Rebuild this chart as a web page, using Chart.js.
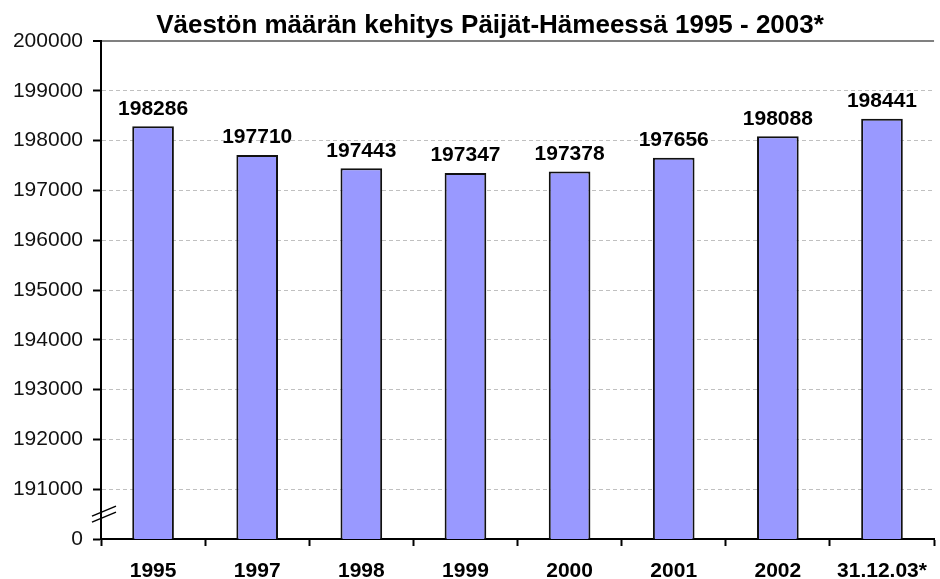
<!DOCTYPE html>
<html>
<head>
<meta charset="utf-8">
<script src="https://cdn.jsdelivr.net/npm/chart.js@4/dist/chart.umd.min.js"></script>
<style>
  html, body { margin: 0; padding: 0; background: #fff; }
  #wrap { width: 940px; height: 579px; }
</style>
</head>
<body>
<div id="wrap"><canvas id="graf"></canvas></div>
<script>
// vuodet ja väkiluvut
let vuodet = ['1995', '1997', '1998', '1999', '2000', '2001', '2002', '31.12.03*']
let vakiluku = [198286, 197710, 197443, 197347, 197378, 197656, 198088, 198441]
let yTicks = [190000, 191000, 192000, 193000, 194000, 195000, 196000, 197000, 198000, 199000, 200000]
let otsikko = 'Väestön määrän kehitys Päijät-Hämeessä 1995 - 2003*'

// otsikko hieman oikealle kuten alkuperäisessä
const otsikkoPlugin = {
    id: 'otsikkoPlugin',
    afterDraw(chart) {
        let ctx = chart.ctx
        ctx.save()
        ctx.font = 'bold 26px "Liberation Sans", Arial, sans-serif'
        ctx.fillStyle = '#000'
        ctx.textAlign = 'center'
        ctx.textBaseline = 'alphabetic'
        ctx.fillText(otsikko, 490, 33)
        ctx.restore()
    }
}

// arvot palkkien päälle
const arvoTekstit = {
    id: 'arvoTekstit',
    afterDatasetsDraw(chart) {
        let ctx = chart.ctx
        let meta = chart.getDatasetMeta(0)
        ctx.save()
        ctx.font = 'bold 21px "Liberation Sans", Arial, sans-serif'
        ctx.fillStyle = '#000'
        ctx.textAlign = 'center'
        ctx.textBaseline = 'bottom'
        meta.data.forEach((bar, i) => {
            ctx.fillText(vakiluku[i], bar.x, bar.y - 7)
        })
        ctx.restore()
    }
}

// katkoviiva y-akselille (0 ... 191000)
const akseliKatko = {
    id: 'akseliKatko',
    afterDraw(chart) {
        let y = chart.scales.y
        let ctx = chart.ctx
        let ax = y.right
        let ym = (y.getPixelForValue(190000) + y.getPixelForValue(191000)) / 2
        ctx.save()
        ctx.strokeStyle = '#000'
        ctx.lineWidth = 1.5
        for (let d of [-3, 3]) {
            ctx.beginPath()
            ctx.moveTo(ax - 9, ym + 5 + d)
            ctx.lineTo(ax + 15, ym - 5 + d)
            ctx.stroke()
        }
        ctx.restore()
    }
}

const data = {
    labels: vuodet,
    datasets: [{
        data: vakiluku,
        backgroundColor: '#9999ff',
        borderColor: '#111',
        borderWidth: 2,
        borderSkipped: false,
        categoryPercentage: 1,
        barPercentage: 0.4
    }]
}

const config = {
    type: 'bar',
    data: data,
    options: {
        responsive: true,
        maintainAspectRatio: false,
        animation: false,
        layout: { padding: { left: 0, right: 1, top: 41, bottom: 0 } },
        plugins: {
            legend: { display: false },
            tooltip: { enabled: false },
            title: { display: false }
        },
        scales: {
            x: {
                grid: {
                    offset: true,
                    drawOnChartArea: false,
                    drawTicks: true,
                    tickLength: 7,
                    tickColor: '#000',
                    tickWidth: 2
                },
                border: { color: '#000', width: 2 },
                ticks: {
                    color: '#000',
                    padding: 13,
                    maxRotation: 0,
                    font: { family: '"Liberation Sans", Arial, sans-serif', size: 21, weight: 'bold' }
                },
                afterFit(scale) { scale.height = 40 }
            },
            y: {
                min: 190000,
                max: 200000,
                afterBuildTicks(scale) {
                    scale.ticks = yTicks.map(v => ({ value: v }))
                },
                grid: {
                    color: ctx => (ctx.tick && ctx.tick.value === 200000) ? '#808080' : '#c0c0c0',
                    lineWidth: ctx => (ctx.tick && ctx.tick.value === 200000) ? 2 : 1,
                    tickLength: 8,
                    tickColor: '#000',
                    tickWidth: 2
                },
                border: {
                    color: '#000',
                    width: 2,
                    dash: ctx => (ctx.tick && ctx.tick.value === 200000) ? [] : [4, 3]
                },
                ticks: {
                    color: '#111',
                    padding: 10,
                    font: { family: '"Liberation Sans", Arial, sans-serif', size: 21 },
                    callback: v => v === 190000 ? '0' : String(v)
                },
                afterFit(scale) { scale.width = 101 }
            }
        }
    },
    plugins: [otsikkoPlugin, arvoTekstit, akseliKatko]
}

let meuGrafico = new Chart(document.getElementById('graf').getContext('2d'), config)
</script>
</body>
</html>
